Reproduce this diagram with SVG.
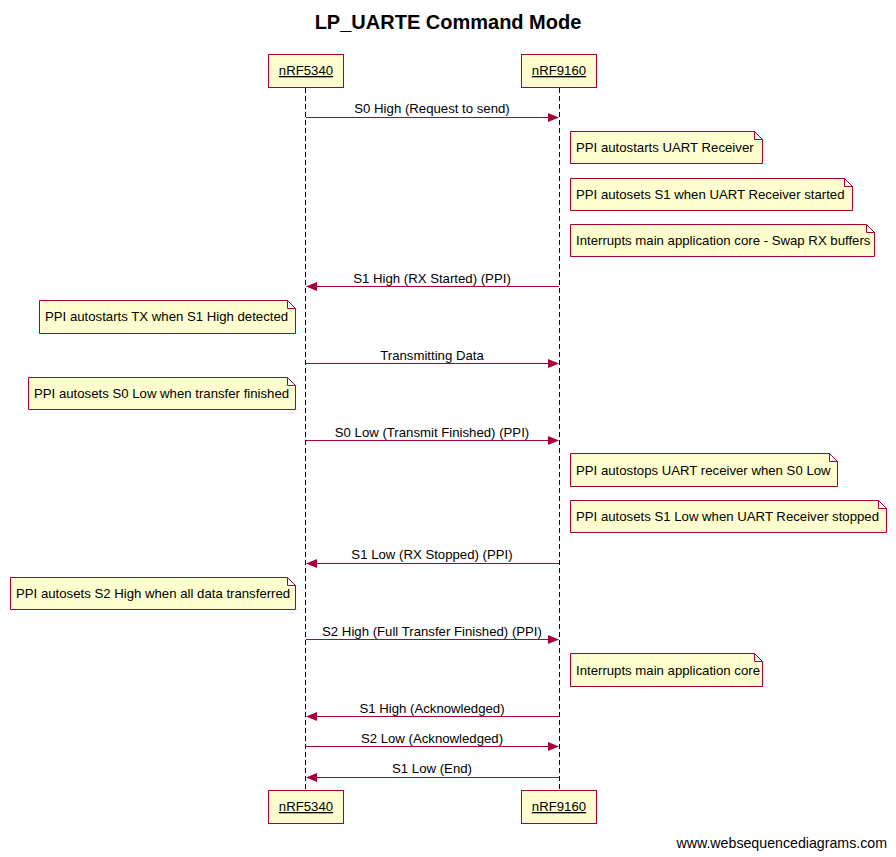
<svg xmlns="http://www.w3.org/2000/svg" width="896" height="857" viewBox="0 0 896 857">
<style>
text{font-family:"Liberation Sans",Arial,sans-serif;font-size:13.2px;fill:#000}
.title{font-size:20px;font-weight:bold}
.part rect{fill:#fefece;stroke:#a80036;stroke-width:1}
.part text{text-decoration:underline;text-anchor:middle}
.life{stroke:#000;stroke-width:1;stroke-dasharray:5,3}
.msg line{stroke:#a80036;stroke-width:1}
.msg polygon{fill:#a80036}
.msg text{text-anchor:middle}
.note path{fill:#fefece;stroke:#a80036;stroke-width:1}
.wm{font-size:14.2px}
</style>
<rect width="896" height="857" fill="#fff"/>
<text class="title" x="448" y="29" text-anchor="middle">LP_UARTE Command Mode</text>
<g id="lifelines">
<line class="life" x1="305.5" y1="88" x2="305.5" y2="790"/>
<line class="life" x1="559.5" y1="88" x2="559.5" y2="790"/>
</g>
<g id="p-nrf5340-top" class="part"><rect x="268.5" y="54.5" width="75" height="33"/><text x="306" y="75">nRF5340</text></g>
<g id="p-nrf9160-top" class="part"><rect x="521.5" y="54.5" width="75" height="33"/><text x="559" y="75">nRF9160</text></g>
<g id="p-nrf5340-bot" class="part"><rect x="268.5" y="790.5" width="75" height="33"/><text x="306" y="811">nRF5340</text></g>
<g id="p-nrf9160-bot" class="part"><rect x="521.5" y="790.5" width="75" height="33"/><text x="559" y="811">nRF9160</text></g>
<g id="connectors" class="msg">
<g id="m1"><line x1="306" y1="117.5" x2="549" y2="117.5"/><polygon points="559,117.5 548,113 548,122"/><text x="432" y="113">S0 High (Request to send)</text></g>
<g id="m2"><line x1="559" y1="286.5" x2="316" y2="286.5"/><polygon points="306,286.5 317,282 317,291"/><text x="432" y="283">S1 High (RX Started) (PPI)</text></g>
<g id="m3"><line x1="306" y1="363.5" x2="549" y2="363.5"/><polygon points="559,363.5 548,359 548,368"/><text x="432" y="360">Transmitting Data</text></g>
<g id="m4"><line x1="306" y1="440.5" x2="549" y2="440.5"/><polygon points="559,440.5 548,436 548,445"/><text x="432" y="437">S0 Low (Transmit Finished) (PPI)</text></g>
<g id="m5"><line x1="559" y1="563.5" x2="316" y2="563.5"/><polygon points="306,563.5 317,559 317,568"/><text x="432" y="559">S1 Low (RX Stopped) (PPI)</text></g>
<g id="m6"><line x1="306" y1="639.5" x2="549" y2="639.5"/><polygon points="559,639.5 548,635 548,644"/><text x="432" y="636">S2 High (Full Transfer Finished) (PPI)</text></g>
<g id="m7"><line x1="559" y1="716.5" x2="316" y2="716.5"/><polygon points="306,716.5 317,712 317,721"/><text x="432" y="713">S1 High (Acknowledged)</text></g>
<g id="m8"><line x1="306" y1="746.5" x2="549" y2="746.5"/><polygon points="559,746.5 548,742 548,751"/><text x="432" y="743">S2 Low (Acknowledged)</text></g>
<g id="m9"><line x1="559" y1="777.5" x2="316" y2="777.5"/><polygon points="306,777.5 317,773 317,782"/><text x="432" y="773">S1 Low (End)</text></g>
</g>
<g id="n1" class="note"><path d="M570.5,131.5 H754.5 L762.5,139.5 V163.5 H570.5 Z M754.5,131.5 V139.5 H762.5"/><text x="576" y="152">PPI autostarts UART Receiver</text></g>
<g id="n2" class="note"><path d="M570.5,178.5 H844.5 L852.5,186.5 V210.5 H570.5 Z M844.5,178.5 V186.5 H852.5"/><text x="576" y="199">PPI autosets S1 when UART Receiver started</text></g>
<g id="n3" class="note"><path d="M570.5,224.5 H866.5 L874.5,232.5 V256.5 H570.5 Z M866.5,224.5 V232.5 H874.5"/><text x="576" y="245">Interrupts main application core - Swap RX buffers</text></g>
<g id="n4" class="note"><path d="M39.5,300.5 H287.5 L295.5,308.5 V333.5 H39.5 Z M287.5,300.5 V308.5 H295.5"/><text x="45" y="321">PPI autostarts TX when S1 High detected</text></g>
<g id="n5" class="note"><path d="M28.5,377.5 H287.5 L295.5,385.5 V409.5 H28.5 Z M287.5,377.5 V385.5 H295.5"/><text x="34" y="398">PPI autosets S0 Low when transfer finished</text></g>
<g id="n6" class="note"><path d="M570.5,453.5 H829.5 L837.5,461.5 V486.5 H570.5 Z M829.5,453.5 V461.5 H837.5"/><text x="576" y="475">PPI autostops UART receiver when S0 Low</text></g>
<g id="n7" class="note"><path d="M570.5,500.5 H878.5 L886.5,508.5 V532.5 H570.5 Z M878.5,500.5 V508.5 H886.5"/><text x="576" y="521">PPI autosets S1 Low when UART Receiver stopped</text></g>
<g id="n8" class="note"><path d="M10.5,577.5 H287.5 L295.5,585.5 V609.5 H10.5 Z M287.5,577.5 V585.5 H295.5"/><text x="16" y="598">PPI autosets S2 High when all data transferred</text></g>
<g id="n9" class="note"><path d="M570.5,653.5 H754.5 L762.5,661.5 V686.5 H570.5 Z M754.5,653.5 V661.5 H762.5"/><text x="576" y="675">Interrupts main application core</text></g>
<text class="wm" x="887" y="848" text-anchor="end">www.websequencediagrams.com</text>
</svg>
